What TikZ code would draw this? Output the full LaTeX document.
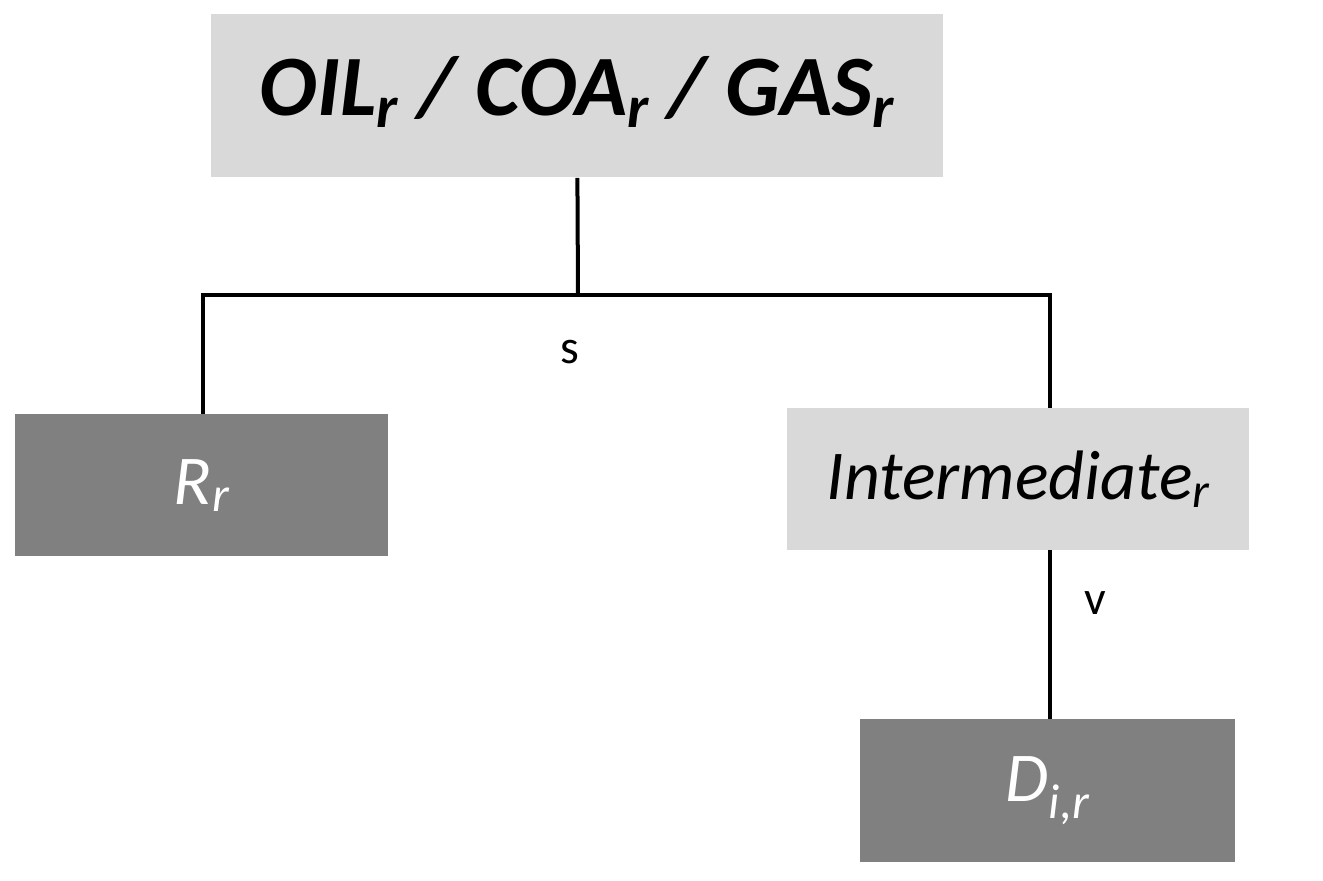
\documentclass[tikz,border=0pt]{standalone}
\usepackage{fontspec}
\setmainfont{Carlito}
\begin{document}
\begin{tikzpicture}[x=0.5pt,y=-0.5pt,
  lbox/.style={fill={rgb,255:red,217;green,217;blue,217},draw=none,inner sep=0pt,anchor=north west},
  dbox/.style={fill={rgb,255:red,128;green,128;blue,128},draw=none,inner sep=0pt,anchor=north west,text=white},
  conn/.style={line width=2pt}]
\useasboundingbox (0,0) rectangle (1323,881);
\node[lbox,minimum width=366pt,minimum height=81.5pt] (top) at (211,14) {};
\node at ([yshift=2pt]top.center) {\fontsize{43}{48}\selectfont\bfseries\itshape OIL\textsubscript{r} / COA\textsubscript{r} / GAS\textsubscript{r}};
\node[dbox,minimum width=186.5pt,minimum height=71pt] (R) at (15,414) {};
\node[text=white] at (R.center) {\fontsize{35}{40}\selectfont\itshape R\textsubscript{r}};
\node[lbox,minimum width=231pt,minimum height=71pt] (I) at (787,408) {};
\node at (I.center) {\fontsize{35}{40}\selectfont\itshape Intermediate\textsubscript{r}};
\node[dbox,minimum width=187.5pt,minimum height=71.5pt] (D) at (860,719) {};
\node[text=white] at (D.center) {\fontsize{35}{40}\selectfont\itshape D\textsubscript{i,r}};
\coordinate (j) at (578,295);
\draw[conn] (top.south) -- (j);
\draw[conn] (203,414) |- (j) -| (1050,408);
\draw[conn] (1050,550) -- (1050,719);
\node (s) at (570,352) {\fontsize{24}{28}\selectfont s};
\node (v) at (1095,603) {\fontsize{24}{28}\selectfont v};
\end{tikzpicture}
\end{document}
